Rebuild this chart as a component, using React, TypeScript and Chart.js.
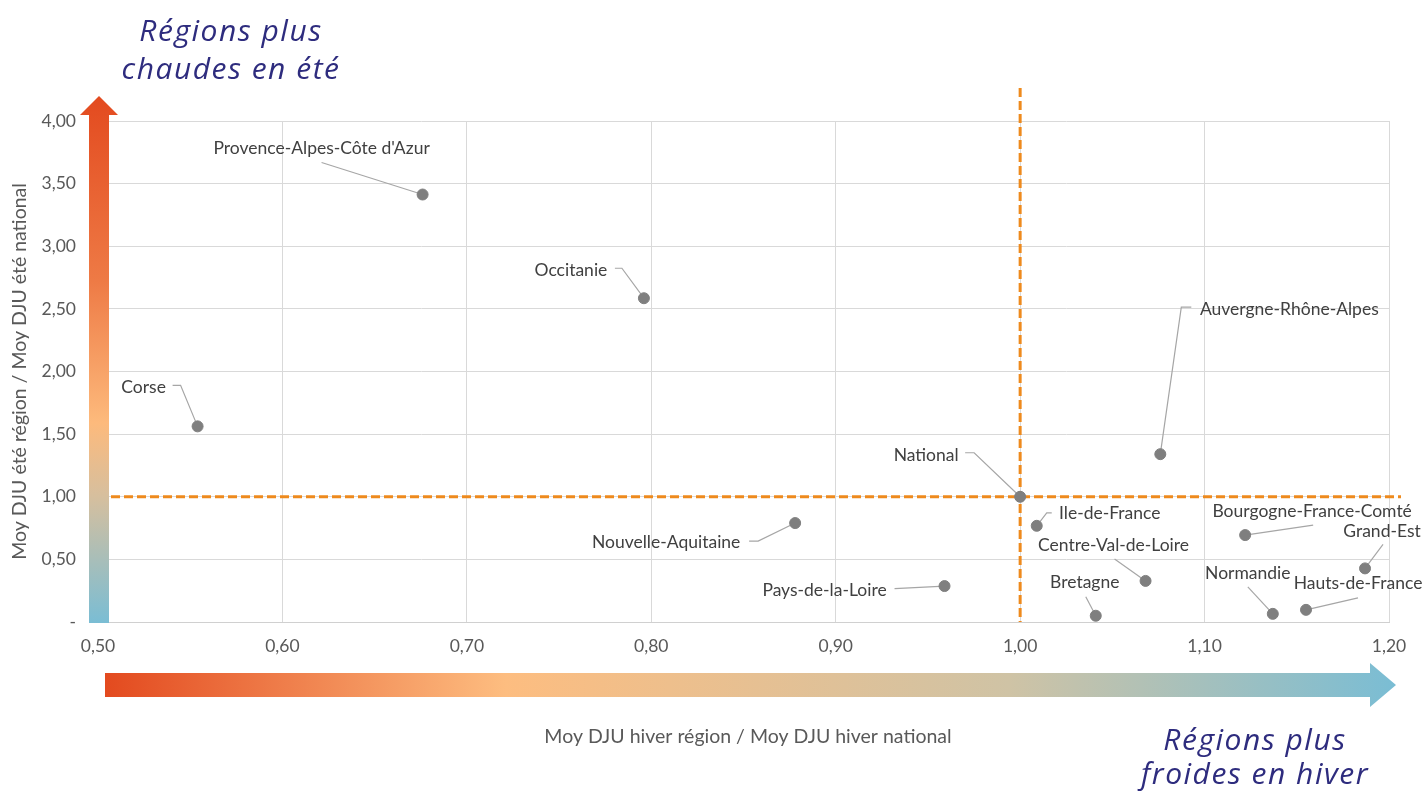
import React, { useEffect, useRef } from 'react';
import { Chart, registerables } from 'chart.js';

Chart.register(...registerables);

// ---- Data ----
const regions = [
  "Provence-Alpes-Côte d'Azur",
  'Occitanie',
  'Corse',
  'Auvergne-Rhône-Alpes',
  'National',
  'Ile-de-France',
  'Nouvelle-Aquitaine',
  'Pays-de-la-Loire',
  'Bretagne',
  'Centre-Val-de-Loire',
  'Bourgogne-France-Comté',
  'Grand-Est',
  'Normandie',
  'Hauts-de-France',
];
const winterRatio = [0.676, 0.796, 0.554, 1.076, 1.0, 1.009, 0.878, 0.959, 1.041, 1.068, 1.122, 1.187, 1.137, 1.155];
const summerRatio = [3.413, 2.585, 1.562, 1.34, 1.0, 0.768, 0.79, 0.287, 0.05, 0.328, 0.694, 0.428, 0.065, 0.097];

const xMin = 0.5;
const xMax = 1.2;
const xStep = 0.1;
const yMin = 0;
const yMax = 4;
const yStep = 0.5;
const referenceX = 1.0;
const referenceY = 1.0;

const xAxisTitle = 'Moy DJU hiver région / Moy DJU hiver national';
const yAxisTitle = 'Moy DJU été région / Moy DJU été national';
const topTitle = ['Régions plus', 'chaudes en été'];
const bottomTitle = ['Régions plus', 'froides en hiver'];

// ---- Label placement (pixel offsets relative to each point) ----
type LabelPos = { lx: number; ly: number; sx: number; sy: number; ex?: number; ey?: number };
const labelLayout: Record<string, LabelPos> = {
  "Provence-Alpes-Côte d'Azur": { lx: -101, ly: -46, sx: -101, sy: -32 },
  Occitanie: { lx: -73, ly: -28, sx: -29, sy: -30, ex: -22, ey: -30 },
  Corse: { lx: -54, ly: -39, sx: -25, sy: -41, ex: -17, ey: -41 },
  'Auvergne-Rhône-Alpes': { lx: 129, ly: -145, sx: 31, sy: -147, ex: 21, ey: -147 },
  National: { lx: -94, ly: -41, sx: -55, sy: -44, ex: -46, ey: -44 },
  'Ile-de-France': { lx: 73, ly: -12, sx: 15, sy: -13, ex: 10, ey: -13 },
  'Nouvelle-Aquitaine': { lx: -129, ly: 19, sx: -46, sy: 18, ex: -37, ey: 18 },
  'Pays-de-la-Loire': { lx: -120, ly: 4, sx: -50, sy: 2.5 },
  Bretagne: { lx: -11, ly: -33, sx: -10, sy: -19 },
  'Centre-Val-de-Loire': { lx: -32, ly: -36, sx: -31, sy: -22 },
  'Bourgogne-France-Comté': { lx: 67, ly: -24, sx: 68, sy: -10 },
  'Grand-Est': { lx: 17, ly: -37, sx: 18, sy: -24 },
  Normandie: { lx: -25, ly: -40, sx: -25, sy: -27 },
  'Hauts-de-France': { lx: 52, ly: -26, sx: 52, sy: -12 },
};

const FONT = 'Lato, "Open Sans", sans-serif';
const TITLE_FONT = '"Open Sans", Lato, sans-serif';
const fmt = (v: number) => v.toFixed(2).replace('.', ',');

const decorPlugin = {
  id: 'decor',
  beforeDatasetsDraw(chart: any) {
    const { ctx, chartArea } = chart;
    const xs = chart.scales.x;
    const ys = chart.scales.y;
    const { left, right, top, bottom } = chartArea;
    ctx.save();

    // dashed reference lines
    const rx = xs.getPixelForValue(referenceX);
    const ry = ys.getPixelForValue(referenceY);
    ctx.strokeStyle = '#EE8A1D';
    ctx.lineWidth = 3;
    ctx.setLineDash([9, 4]);
    ctx.beginPath();
    ctx.moveTo(rx, top - 33);
    ctx.lineTo(rx, bottom);
    ctx.stroke();
    ctx.beginPath();
    ctx.moveTo(left, ry);
    ctx.lineTo(right + 12, ry);
    ctx.stroke();
    ctx.setLineDash([]);

    // vertical gradient arrow
    const vTip = top - 25;
    const vg = ctx.createLinearGradient(0, vTip, 0, bottom + 1);
    vg.addColorStop(0, '#E34A1F');
    vg.addColorStop(0.35, '#EE7A45');
    vg.addColorStop(0.62, '#FDBA7C');
    vg.addColorStop(0.76, '#D6BF9E');
    vg.addColorStop(1, '#7ABDD4');
    ctx.fillStyle = vg;
    ctx.beginPath();
    ctx.moveTo(left - 9, bottom + 1);
    ctx.lineTo(left - 9, top - 6);
    ctx.lineTo(left - 18, top - 6);
    ctx.lineTo(left + 1, vTip);
    ctx.lineTo(left + 20, top - 6);
    ctx.lineTo(left + 11, top - 6);
    ctx.lineTo(left + 11, bottom + 1);
    ctx.closePath();
    ctx.fill();

    // horizontal gradient arrow
    const hStart = left + 7;
    const hTip = right + 7;
    const hg = ctx.createLinearGradient(hStart, 0, hTip, 0);
    hg.addColorStop(0, '#E34A1F');
    hg.addColorStop(0.31, '#FDBD80');
    hg.addColorStop(0.7, '#CFC3A5');
    hg.addColorStop(1, '#7ABDD4');
    ctx.fillStyle = hg;
    ctx.beginPath();
    ctx.moveTo(hStart, bottom + 51);
    ctx.lineTo(right - 19, bottom + 51);
    ctx.lineTo(right - 19, bottom + 41);
    ctx.lineTo(hTip, bottom + 63);
    ctx.lineTo(right - 19, bottom + 85);
    ctx.lineTo(right - 19, bottom + 75);
    ctx.lineTo(hStart, bottom + 75);
    ctx.closePath();
    ctx.fill();

    // leader lines
    ctx.strokeStyle = '#A6A6A6';
    ctx.lineWidth = 1.2;
    regions.forEach((name, i) => {
      const l = labelLayout[name];
      if (!l) return;
      const px = xs.getPixelForValue(winterRatio[i]);
      const py = ys.getPixelForValue(summerRatio[i]);
      ctx.beginPath();
      ctx.moveTo(px + l.sx, py + l.sy);
      if (l.ex !== undefined && l.ey !== undefined) ctx.lineTo(px + l.ex, py + l.ey);
      ctx.lineTo(px, py);
      ctx.stroke();
    });
    ctx.restore();
  },
  afterDatasetsDraw(chart: any) {
    const { ctx, chartArea } = chart;
    const xs = chart.scales.x;
    const ys = chart.scales.y;
    ctx.save();
    // point labels
    ctx.font = `17.5px ${FONT}`;
    ctx.fillStyle = '#404040';
    ctx.textAlign = 'center';
    ctx.textBaseline = 'middle';
    regions.forEach((name, i) => {
      const l = labelLayout[name];
      if (!l) return;
      const px = xs.getPixelForValue(winterRatio[i]);
      const py = ys.getPixelForValue(summerRatio[i]);
      ctx.fillText(name, px + l.lx, py + l.ly);
    });

    // axis titles
    ctx.font = `19.5px ${FONT}`;
    ctx.fillStyle = '#595959';
    ctx.fillText(xAxisTitle, 748, 737);
    ctx.save();
    ctx.translate(20, (chartArea.top + chartArea.bottom) / 2);
    ctx.rotate(-Math.PI / 2);
    ctx.fillText(yAxisTitle, 0, 0);
    ctx.restore();

    // big titles
    ctx.font = `italic 30px ${TITLE_FONT}`;
    try {
      (ctx as any).letterSpacing = '1.5px';
    } catch (e) {
      /* ignore */
    }
    ctx.fillStyle = '#2E2C7E';
    ctx.textBaseline = 'alphabetic';
    ctx.fillText(topTitle[0], 231, 41);
    ctx.fillText(topTitle[1], 231, 79);
    ctx.fillText(bottomTitle[0], 1255, 750);
    ctx.fillText(bottomTitle[1], 1255, 784);
    ctx.restore();
  },
};

export default function App() {
  const canvasRef = useRef<HTMLCanvasElement | null>(null);

  useEffect(() => {
    const canvas = canvasRef.current;
    if (!canvas) return;
    const chart = new Chart(canvas, {
      type: 'scatter',
      data: {
        datasets: [
          {
            label: 'Régions',
            data: regions.map((_, i) => ({ x: winterRatio[i], y: summerRatio[i] })),
            backgroundColor: '#7F7F7F',
            borderColor: '#7F7F7F',
            pointRadius: 5.5,
            pointHoverRadius: 5.5,
            clip: false as any,
          },
        ],
      },
      options: {
        responsive: false,
        animation: false,
        devicePixelRatio: 1,
        layout: { padding: { top: 121, right: 35, left: 0, bottom: 0 } },
        plugins: {
          legend: { display: false },
          tooltip: { enabled: false },
        },
        scales: {
          x: {
            type: 'linear',
            min: xMin,
            max: xMax,
            afterFit: (scale: any) => {
              scale.height = 169;
            },
            ticks: {
              stepSize: xStep,
              padding: 14,
              color: '#595959',
              font: { family: FONT, size: 17.5 },
              callback: (v: any) => fmt(Number(v)),
            },
            grid: { color: '#D9D9D9', lineWidth: 1, drawTicks: false },
            border: { color: '#D0D0D0', width: 1 },
          },
          y: {
            type: 'linear',
            min: yMin,
            max: yMax,
            afterFit: (scale: any) => {
              scale.width = 98;
            },
            ticks: {
              stepSize: yStep,
              padding: 22,
              color: '#595959',
              font: { family: FONT, size: 17.5 },
              callback: (v: any) => (Number(v) === 0 ? '-' : fmt(Number(v))),
            },
            grid: { color: '#D9D9D9', lineWidth: 1, drawTicks: false },
            border: { color: '#D9D9D9', width: 1 },
          },
        },
      },
      plugins: [decorPlugin],
    });
    return () => chart.destroy();
  }, []);

  return (
    <div style={{ position: 'absolute', left: 0, top: 0, width: 1424, height: 791, background: '#fff' }}>
      <canvas ref={canvasRef} width={1424} height={791} style={{ width: 1424, height: 791, display: 'block' }} />
    </div>
  );
}
